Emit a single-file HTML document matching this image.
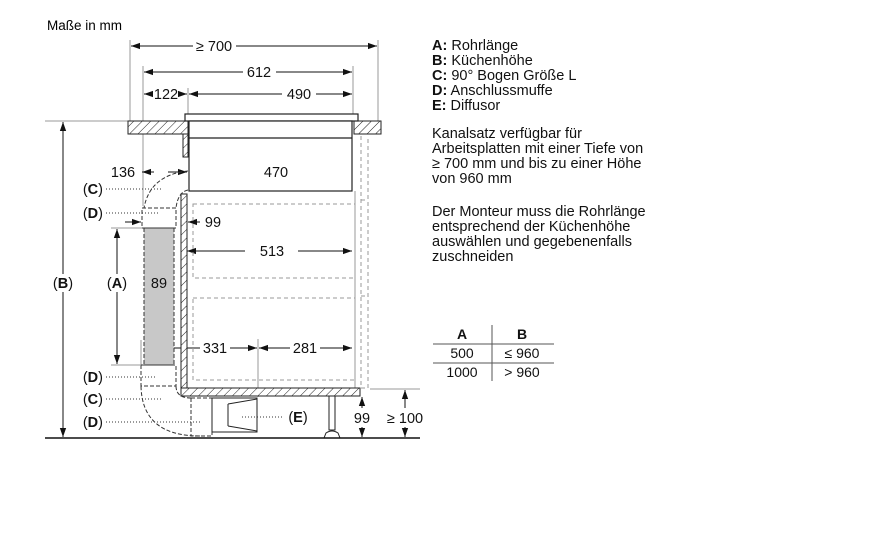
<!DOCTYPE html>
<html><head><meta charset="utf-8"><style>
html,body{margin:0;padding:0;background:#fff;}
svg{display:block;font-family:"Liberation Sans",sans-serif;}
</style></head><body>
<svg width="888" height="542" viewBox="0 0 888 542" xmlns="http://www.w3.org/2000/svg">
<defs>
<pattern id="h" width="6" height="6" patternUnits="userSpaceOnUse" patternTransform="rotate(45)">
<rect width="6" height="6" fill="#fff"/><line x1="0" y1="0" x2="0" y2="6" stroke="#222" stroke-width="1"/>
</pattern>
<marker id="a" viewBox="0 0 10 10" refX="10" refY="5" markerWidth="9" markerHeight="9" orient="auto-start-reverse"><path d="M0,1.5 L10,5 L0,8.5z" fill="#111"/></marker>
</defs>
<text x="47" y="30" font-size="13.5">Maße in mm</text>

<g stroke="#999" stroke-width="1" fill="none">
<line x1="130" y1="40" x2="130" y2="121"/><line x1="378" y1="40" x2="378" y2="121"/>
<line x1="143" y1="66" x2="143" y2="206"/><line x1="353" y1="66" x2="353" y2="114"/>
<line x1="188" y1="88" x2="188" y2="114"/>
<line x1="45" y1="121" x2="128" y2="121"/>
<line x1="111" y1="228" x2="143" y2="228"/><line x1="111" y1="365" x2="140" y2="365"/>
<line x1="258" y1="339" x2="258" y2="397"/>
<line x1="355" y1="191" x2="355" y2="388"/>
<line x1="370" y1="389" x2="420" y2="389"/>
<line x1="141" y1="340" x2="141" y2="366"/>
</g>

<g stroke="#111" stroke-width="1" fill="none">
<line x1="131" y1="46" x2="193" y2="46" marker-start="url(#a)"/><line x1="236" y1="46" x2="377" y2="46" marker-end="url(#a)"/>
<line x1="144" y1="72" x2="243" y2="72" marker-start="url(#a)"/><line x1="276" y1="72" x2="352" y2="72" marker-end="url(#a)"/>
<line x1="144" y1="94" x2="150" y2="94" marker-start="url(#a)"/><line x1="181" y1="94" x2="187" y2="94" marker-end="url(#a)"/>
<line x1="189" y1="94" x2="282" y2="94" marker-start="url(#a)"/><line x1="316" y1="94" x2="352" y2="94" marker-end="url(#a)"/>
<line x1="142" y1="172" x2="154" y2="172" marker-start="url(#a)"/><line x1="168" y1="172" x2="187" y2="172" marker-end="url(#a)"/>
<line x1="190" y1="172" x2="254" y2="172" marker-start="url(#a)"/><line x1="298" y1="172" x2="351" y2="172" marker-end="url(#a)"/>
<line x1="125" y1="222" x2="141" y2="222" marker-end="url(#a)"/><line x1="200" y1="222" x2="188" y2="222" marker-end="url(#a)"/>
<line x1="187" y1="251" x2="245" y2="251" marker-start="url(#a)"/><line x1="298" y1="251" x2="352" y2="251" marker-end="url(#a)"/>
<line x1="145" y1="292" x2="173" y2="292" marker-start="url(#a)" marker-end="url(#a)"/>
<line x1="145" y1="348" x2="200" y2="348" marker-start="url(#a)"/><line x1="230" y1="348" x2="257" y2="348" marker-end="url(#a)"/>
<line x1="259" y1="348" x2="290" y2="348" marker-start="url(#a)"/><line x1="320" y1="348" x2="352" y2="348" marker-end="url(#a)"/>
<line x1="117" y1="229" x2="117" y2="274" marker-start="url(#a)"/><line x1="117" y1="292" x2="117" y2="364" marker-end="url(#a)"/>
<line x1="63" y1="122" x2="63" y2="274" marker-start="url(#a)"/><line x1="63" y1="292" x2="63" y2="437" marker-end="url(#a)"/>
<line x1="362" y1="397" x2="362" y2="408" marker-start="url(#a)"/><line x1="362" y1="427" x2="362" y2="437" marker-end="url(#a)"/>
<line x1="405" y1="390" x2="405" y2="408" marker-start="url(#a)"/><line x1="405" y1="427" x2="405" y2="437" marker-end="url(#a)"/>
</g>

<rect x="128" y="121" width="60" height="13" fill="url(#h)" stroke="#222"/>
<rect x="354" y="121" width="27" height="13" fill="url(#h)" stroke="#222"/>
<rect x="183" y="134" width="5" height="23" fill="url(#h)" stroke="#222"/>
<rect x="185" y="114" width="173" height="7" fill="#fff" stroke="#222" stroke-width="1.2"/>
<rect x="189" y="121" width="163" height="70" fill="#fff" stroke="#222" stroke-width="1.2"/>
<line x1="189" y1="138" x2="352" y2="138" stroke="#222" stroke-width="1.2"/>

<rect x="181" y="194" width="6" height="194" fill="url(#h)" stroke="#222"/>
<rect x="181" y="388" width="179" height="8" fill="url(#h)" stroke="#222"/>
<g stroke="#999" stroke-dasharray="4,3" fill="none">
<rect x="193" y="204" width="162" height="74"/>
<rect x="193" y="298" width="162" height="82"/>
<polyline points="361,136 361,388 368,388 368,136"/>
<line x1="361" y1="200" x2="368" y2="200"/><line x1="361" y1="296" x2="368" y2="296"/>
</g>
<rect x="329" y="396" width="6" height="34" fill="#fff" stroke="#222"/>
<path d="M324,438 L326,433 Q332,429 338,433 L340,438z" fill="#fff" stroke="#222"/>

<rect x="144" y="228" width="30" height="137" fill="#c8c8c8" stroke="#333" stroke-dasharray="4,2"/>
<g stroke="#333" stroke-dasharray="4,2" fill="none" stroke-width="1">
<rect x="142" y="208" width="34" height="20"/>
<path d="M188,171 Q150,175 144,208"/>
<path d="M188,190 Q178,192 176,208"/>
<rect x="141" y="365" width="35" height="21"/>
<path d="M141,386 Q142,436 200,436"/>
<path d="M176,386 Q176,398 191,398"/>
<rect x="191" y="398" width="21" height="38"/>
</g>
<rect x="212" y="398" width="45" height="34" fill="#fff" stroke="#222"/>
<path d="M228,404 L257,399 M228,426 L257,431 M228,404 L228,426" stroke="#222" fill="none"/>

<line x1="45" y1="438" x2="420" y2="438" stroke="#111" stroke-width="1.5"/>

<g stroke="#333" stroke-dasharray="1,2" fill="none">
<line x1="106" y1="189" x2="163" y2="189"/>
<line x1="106" y1="213" x2="160" y2="213"/>
<line x1="106" y1="377" x2="156" y2="377"/>
<line x1="106" y1="399" x2="163" y2="399"/>
<line x1="106" y1="422" x2="200" y2="422"/>
<line x1="242" y1="417" x2="284" y2="417"/>
</g>

<g font-size="14.5" fill="#111" text-anchor="middle">
<text x="214" y="51">≥ 700</text>
<text x="259" y="77">612</text>
<text x="166" y="99">122</text>
<text x="299" y="99">490</text>
<text x="123" y="177">136</text>
<text x="276" y="177">470</text>
<text x="213" y="227">99</text>
<text x="272" y="256">513</text>
<text x="159" y="288">89</text>
<text x="215" y="353">331</text>
<text x="305" y="353">281</text>
<text x="362" y="423">99</text>
<text x="405" y="423">≥ 100</text>
</g>
<g font-size="14.5" fill="#111" text-anchor="end">
<text x="103" y="194">(<tspan font-weight="bold">C</tspan>)</text>
<text x="103" y="218">(<tspan font-weight="bold">D</tspan>)</text>
<text x="103" y="382">(<tspan font-weight="bold">D</tspan>)</text>
<text x="103" y="404">(<tspan font-weight="bold">C</tspan>)</text>
<text x="103" y="427">(<tspan font-weight="bold">D</tspan>)</text>
</g>
<g font-size="14.5" fill="#111" text-anchor="middle">
<text x="63" y="288">(<tspan font-weight="bold">B</tspan>)</text>
<text x="117" y="288">(<tspan font-weight="bold">A</tspan>)</text>
<text x="298" y="422">(<tspan font-weight="bold">E</tspan>)</text>
</g>

<g font-size="14.5" fill="#111">
<text x="432" y="50"><tspan font-weight="bold">A:</tspan> Rohrlänge</text>
<text x="432" y="65"><tspan font-weight="bold">B:</tspan> Küchenhöhe</text>
<text x="432" y="80"><tspan font-weight="bold">C:</tspan> 90° Bogen Größe L</text>
<text x="432" y="95"><tspan font-weight="bold">D:</tspan> Anschlussmuffe</text>
<text x="432" y="110"><tspan font-weight="bold">E:</tspan> Diffusor</text>
<text x="432" y="138">Kanalsatz verfügbar für</text>
<text x="432" y="153">Arbeitsplatten mit einer Tiefe von</text>
<text x="432" y="168">≥ 700 mm und bis zu einer Höhe</text>
<text x="432" y="183">von 960 mm</text>
<text x="432" y="216">Der Monteur muss die Rohrlänge</text>
<text x="432" y="231">entsprechend der Küchenhöhe</text>
<text x="432" y="246">auswählen und gegebenenfalls</text>
<text x="432" y="261">zuschneiden</text>
</g>
<g stroke="#555" stroke-width="1">
<line x1="433" y1="344" x2="554" y2="344"/>
<line x1="433" y1="363" x2="554" y2="363"/>
<line x1="492" y1="325" x2="492" y2="381"/>
</g>
<g font-size="14" fill="#111" text-anchor="middle">
<text x="462" y="339" font-weight="bold">A</text>
<text x="522" y="339" font-weight="bold">B</text>
<text x="462" y="358">500</text>
<text x="522" y="358">≤ 960</text>
<text x="462" y="377">1000</text>
<text x="522" y="377">&gt; 960</text>
</g>
</svg>
</body></html>
